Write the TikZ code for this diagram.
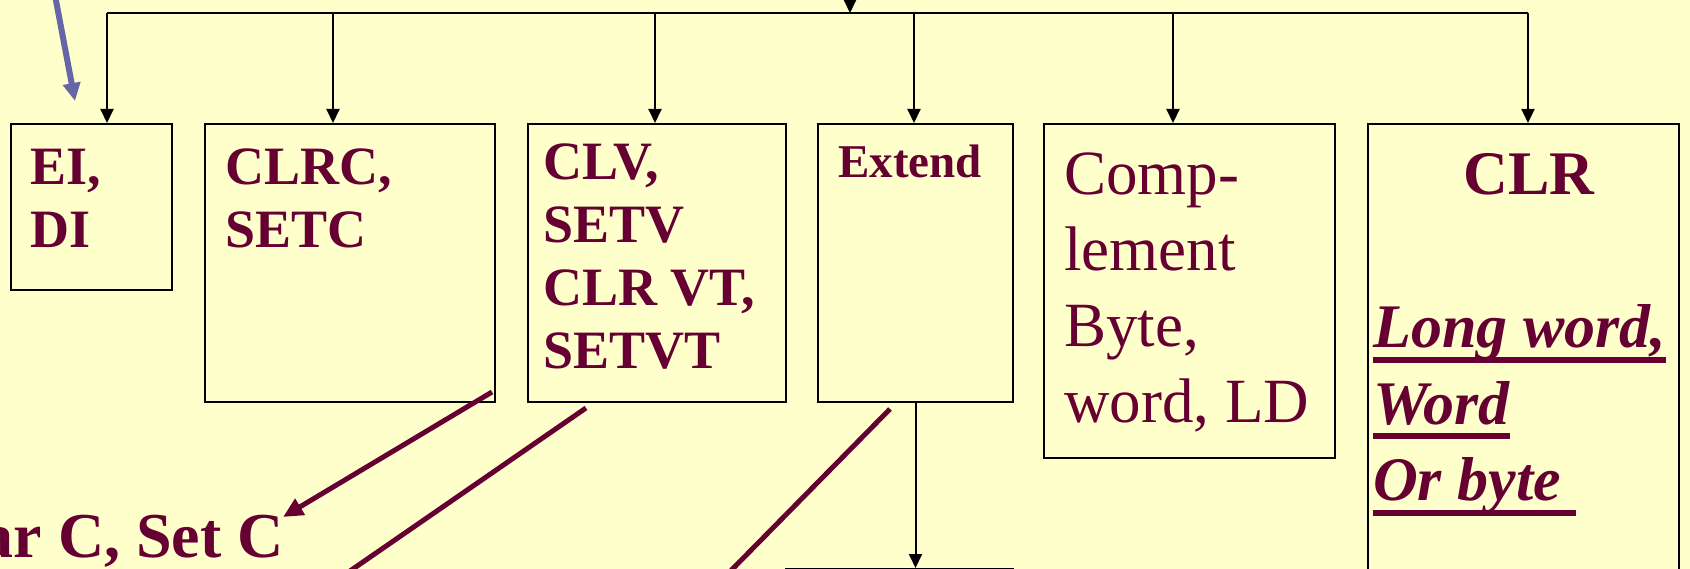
\documentclass[tikz,border=0pt]{standalone}
\usepackage{fontspec}
\setmainfont{Liberation Serif}
\usetikzlibrary{arrows.meta}
\definecolor{SlidePaper}{HTML}{FFFFCC}
\definecolor{SlideInk}{HTML}{660033}
\definecolor{SlideBlue}{HTML}{6666A6}
\newcommand{\thickul}[1]{\setbox0\hbox{#1}\rlap{\rule[-15pt]{\wd0}{6pt}}\box0}

\begin{document}
\begin{tikzpicture}[x=1pt,y=-1pt,
    box/.style={draw=black,line width=2pt,anchor=north west,inner sep=0pt},
    tree/.style={black,line width=2pt,-{Triangle[width=13pt,length=14pt]}},
    hint/.style={SlideInk,line width=5pt},
    lbl/.style={inner sep=0pt,anchor=base west,text=SlideInk},
    bigbold/.style={font=\fontsize{54}{63}\selectfont\bfseries}]
    \path[use as bounding box,fill=SlidePaper] (0,0) rectangle (1690,569);
    \clip (0,0) rectangle (1690,569);
    % boxes and their drops from the bar
    \foreach \name/\x/\w/\h/\dx in {
      eidi/10/161/166/107,
      clrc/204/290/278/333,
      clv/527/258/278/655,
      ext/817/195/278/914,
      compl/1043/291/334/1173,
      clr/1367/311/477/1528
    } {
      \node[box,minimum width=\w pt,minimum height=\h pt] (\name) at (\x,123) {};
      \coordinate (d\name) at (\dx,13);
      \draw[tree] (d\name) -- (d\name |- \name.north);
    }
    \draw[black,line width=2pt] (deidi) -- (dclr);
    \coordinate (hub) at (850,13);
    \coordinate (src) at (850,-30);
    \draw[tree] (src) -- (hub);
    \node[box,minimum width=227pt,minimum height=60pt] (next) at (785,568) {};
    \draw[tree] (ext.south) -- (ext.south |- next.north);

    \node[lbl,bigbold] (eitxt) at ([shift={(20,62)}]eidi.north west) {\parbox[t]{150pt}{EI,\\DI}};
    \node[lbl,bigbold] (clrctxt) at ([shift={(21,62)}]clrc.north west) {\parbox[t]{260pt}{CLRC,\\SETC}};
    \node[lbl,bigbold] (clvtxt) at ([shift={(16,57)}]clv.north west) {\parbox[t]{240pt}{CLV,\\SETV\\CLR VT,\\SETVT}};
    \node[lbl,font=\fontsize{47}{56}\selectfont\bfseries] (exttxt) at ([shift={(21,55)}]ext.north west) {Extend};
    \node[lbl,font=\fontsize{63}{76}\selectfont] (compltxt) at ([shift={(21,72)}]compl.north west) {\parbox[t]{270pt}{Comp-\\lement\\Byte,\\word, LD}};
    \node[lbl,font=\fontsize{62}{76.5}\selectfont\bfseries] (clrtxt) at ([shift={(6,72)}]clr.north west)
      {\parbox[t]{312pt}{\makebox[312pt]{CLR}\\ \mbox{}\\ \itshape\thickul{Long word,}\\ \thickul{Word}\\ \thickul{Or byte\ }}};

    \node[inner sep=0pt,anchor=base east,text=SlideInk,font=\fontsize{64}{76}\selectfont\bfseries] (setc) at (284,557) {Clear C, Set C};
    \draw[hint,-{Triangle[width=18pt,length=20pt]}] ([shift={(-4,-11)}]clrc.south east) -- ([shift={(-1,-40)}]setc.base east);
    \coordinate (cut1) at (308,600);
    \coordinate (cut2) at (702,600);
    \draw[hint] ([shift={(59,5)}]clv.south west) -- (cut1);
    \draw[hint] ([shift={(73,6)}]ext.south west) -- (cut2);

    \coordinate (bluefrom) at (54,-10);
    \draw[SlideBlue,line width=6pt,-{Triangle[width=17pt,length=18pt]}] (bluefrom) -- ([shift={(65,-22)}]eidi.north west);
\end{tikzpicture}
\end{document}
